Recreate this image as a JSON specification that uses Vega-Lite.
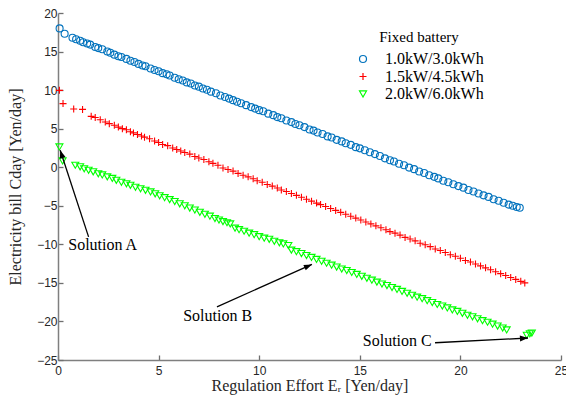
{
"$schema": "https://vega.github.io/schema/vega-lite/v6.json",
"width": 503, "height": 347,
"autosize": {"type": "none"},
"padding": {"left": 58, "top": 13, "right": 5, "bottom": 36},
"background": "white",
"config": {
 "view": {"stroke": null},
 "axis": {"grid": false, "domainColor": "#7f7f7f", "domainWidth": 1.5, "tickColor": "#6f6f6f", "tickWidth": 1.3, "tickSize": -5, "labelOverlap": false, "labelFlush": false, "labelBound": false, "labelColor": "#262626", "labelFont": "Liberation Sans", "labelFontSize": 12, "titleFont": "Liberation Serif", "titleFontSize": 16, "titleFontWeight": "normal", "titleColor": "#262626"},
 "legend": {"orient": "none", "legendX": 297, "legendY": 17, "padding": 0, "titleAnchor": "middle", "titleFont": "Liberation Serif", "titleFontSize": 15, "titleFontWeight": "normal", "titleColor": "black", "titlePadding": 6, "labelFont": "Liberation Serif", "labelFontSize": 16, "labelColor": "black", "labelOffset": 14, "symbolSize": 49, "symbolStrokeWidth": 1.2, "rowPadding": 1.5}
},
"datasets": {
 "pts": [
  {"s":"1.0kW/3.0kWh","x":0.08,"y":18.0},{"s":"1.0kW/3.0kWh","x":0.33,"y":17.3},{"s":"1.0kW/3.0kWh","x":0.72,"y":16.8},{"s":"1.0kW/3.0kWh","x":0.9,"y":16.6},{"s":"1.0kW/3.0kWh","x":1.1,"y":16.4},{"s":"1.0kW/3.0kWh","x":1.25,"y":16.2},{"s":"1.0kW/3.0kWh","x":1.45,"y":16.05},{"s":"1.0kW/3.0kWh","x":1.6,"y":15.9},{"s":"1.0kW/3.0kWh","x":1.85,"y":15.6},{"s":"1.0kW/3.0kWh","x":2.0,"y":15.45},{"s":"1.0kW/3.0kWh","x":2.2,"y":15.3},{"s":"1.0kW/3.0kWh","x":2.45,"y":15.0},{"s":"1.0kW/3.0kWh","x":2.6,"y":14.85},{"s":"1.0kW/3.0kWh","x":2.8,"y":14.6},{"s":"1.0kW/3.0kWh","x":3.0,"y":14.4},{"s":"1.0kW/3.0kWh","x":3.15,"y":14.3},{"s":"1.0kW/3.0kWh","x":3.4,"y":14.05},{"s":"1.0kW/3.0kWh","x":3.6,"y":13.8},{"s":"1.0kW/3.0kWh","x":3.8,"y":13.65},{"s":"1.0kW/3.0kWh","x":4.0,"y":13.4},{"s":"1.0kW/3.0kWh","x":4.2,"y":13.2},{"s":"1.0kW/3.0kWh","x":4.35,"y":13.1},{"s":"1.0kW/3.0kWh","x":4.6,"y":12.8},{"s":"1.0kW/3.0kWh","x":4.8,"y":12.6},{"s":"1.0kW/3.0kWh","x":5.0,"y":12.45},{"s":"1.0kW/3.0kWh","x":5.2,"y":12.2},{"s":"1.0kW/3.0kWh","x":5.4,"y":12.05},{"s":"1.0kW/3.0kWh","x":5.55,"y":11.9},{"s":"1.0kW/3.0kWh","x":5.8,"y":11.6},{"s":"1.0kW/3.0kWh","x":6.0,"y":11.4},{"s":"1.0kW/3.0kWh","x":6.2,"y":11.25},{"s":"1.0kW/3.0kWh","x":6.4,"y":11.0},{"s":"1.0kW/3.0kWh","x":6.6,"y":10.85},{"s":"1.0kW/3.0kWh","x":6.8,"y":10.6},{"s":"1.0kW/3.0kWh","x":7.0,"y":10.45},{"s":"1.0kW/3.0kWh","x":7.2,"y":10.2},{"s":"1.0kW/3.0kWh","x":7.4,"y":10.05},{"s":"1.0kW/3.0kWh","x":7.6,"y":9.8},{"s":"1.0kW/3.0kWh","x":7.85,"y":9.6},{"s":"1.0kW/3.0kWh","x":8.07,"y":9.3},{"s":"1.0kW/3.0kWh","x":8.3,"y":9.1},{"s":"1.0kW/3.0kWh","x":8.5,"y":8.9},{"s":"1.0kW/3.0kWh","x":8.7,"y":8.7},{"s":"1.0kW/3.0kWh","x":8.9,"y":8.5},{"s":"1.0kW/3.0kWh","x":9.1,"y":8.3},{"s":"1.0kW/3.0kWh","x":9.35,"y":8.05},{"s":"1.0kW/3.0kWh","x":9.6,"y":7.8},{"s":"1.0kW/3.0kWh","x":9.8,"y":7.6},{"s":"1.0kW/3.0kWh","x":10.0,"y":7.4},{"s":"1.0kW/3.0kWh","x":10.2,"y":7.25},{"s":"1.0kW/3.0kWh","x":10.45,"y":6.95},{"s":"1.0kW/3.0kWh","x":10.7,"y":6.75},{"s":"1.0kW/3.0kWh","x":10.9,"y":6.5},{"s":"1.0kW/3.0kWh","x":11.1,"y":6.35},{"s":"1.0kW/3.0kWh","x":11.35,"y":6.05},{"s":"1.0kW/3.0kWh","x":11.6,"y":5.85},{"s":"1.0kW/3.0kWh","x":11.8,"y":5.6},{"s":"1.0kW/3.0kWh","x":12.0,"y":5.45},{"s":"1.0kW/3.0kWh","x":12.25,"y":5.2},{"s":"1.0kW/3.0kWh","x":12.5,"y":4.9},{"s":"1.0kW/3.0kWh","x":12.7,"y":4.75},{"s":"1.0kW/3.0kWh","x":12.9,"y":4.5},{"s":"1.0kW/3.0kWh","x":13.15,"y":4.3},{"s":"1.0kW/3.0kWh","x":13.4,"y":4.0},{"s":"1.0kW/3.0kWh","x":13.6,"y":3.85},{"s":"1.0kW/3.0kWh","x":13.85,"y":3.55},{"s":"1.0kW/3.0kWh","x":14.1,"y":3.35},{"s":"1.0kW/3.0kWh","x":14.3,"y":3.1},{"s":"1.0kW/3.0kWh","x":14.55,"y":2.9},{"s":"1.0kW/3.0kWh","x":14.8,"y":2.6},{"s":"1.0kW/3.0kWh","x":15.0,"y":2.45},{"s":"1.0kW/3.0kWh","x":15.25,"y":2.2},{"s":"1.0kW/3.0kWh","x":15.5,"y":1.95},{"s":"1.0kW/3.0kWh","x":15.75,"y":1.7},{"s":"1.0kW/3.0kWh","x":16.0,"y":1.45},{"s":"1.0kW/3.0kWh","x":16.25,"y":1.15},{"s":"1.0kW/3.0kWh","x":16.5,"y":0.9},{"s":"1.0kW/3.0kWh","x":16.7,"y":0.75},{"s":"1.0kW/3.0kWh","x":16.95,"y":0.45},{"s":"1.0kW/3.0kWh","x":17.2,"y":0.25},{"s":"1.0kW/3.0kWh","x":17.45,"y":-0.05},{"s":"1.0kW/3.0kWh","x":17.7,"y":-0.25},{"s":"1.0kW/3.0kWh","x":17.95,"y":-0.55},{"s":"1.0kW/3.0kWh","x":18.2,"y":-0.75},{"s":"1.0kW/3.0kWh","x":18.45,"y":-1.05},{"s":"1.0kW/3.0kWh","x":18.7,"y":-1.25},{"s":"1.0kW/3.0kWh","x":18.9,"y":-1.45},{"s":"1.0kW/3.0kWh","x":19.15,"y":-1.75},{"s":"1.0kW/3.0kWh","x":19.4,"y":-1.95},{"s":"1.0kW/3.0kWh","x":19.65,"y":-2.2},{"s":"1.0kW/3.0kWh","x":19.9,"y":-2.45},{"s":"1.0kW/3.0kWh","x":20.15,"y":-2.65},{"s":"1.0kW/3.0kWh","x":20.4,"y":-2.95},{"s":"1.0kW/3.0kWh","x":20.65,"y":-3.15},{"s":"1.0kW/3.0kWh","x":20.9,"y":-3.4},{"s":"1.0kW/3.0kWh","x":21.15,"y":-3.65},{"s":"1.0kW/3.0kWh","x":21.4,"y":-3.85},{"s":"1.0kW/3.0kWh","x":21.65,"y":-4.15},{"s":"1.0kW/3.0kWh","x":21.9,"y":-4.35},{"s":"1.0kW/3.0kWh","x":22.15,"y":-4.6},{"s":"1.0kW/3.0kWh","x":22.4,"y":-4.85},{"s":"1.0kW/3.0kWh","x":22.6,"y":-5.0},{"s":"1.0kW/3.0kWh","x":22.8,"y":-5.15},{"s":"1.0kW/3.0kWh","x":22.95,"y":-5.25},
  {"s":"1.5kW/4.5kWh","x":0.07,"y":9.97},{"s":"1.5kW/4.5kWh","x":0.25,"y":8.25},{"s":"1.5kW/4.5kWh","x":0.78,"y":7.55},{"s":"1.5kW/4.5kWh","x":1.22,"y":7.5},{"s":"1.5kW/4.5kWh","x":1.65,"y":6.6},{"s":"1.5kW/4.5kWh","x":1.85,"y":6.45},{"s":"1.5kW/4.5kWh","x":2.1,"y":6.15},{"s":"1.5kW/4.5kWh","x":2.35,"y":5.87},{"s":"1.5kW/4.5kWh","x":2.55,"y":5.65},{"s":"1.5kW/4.5kWh","x":2.8,"y":5.45},{"s":"1.5kW/4.5kWh","x":3.0,"y":5.2},{"s":"1.5kW/4.5kWh","x":3.2,"y":5.0},{"s":"1.5kW/4.5kWh","x":3.4,"y":4.85},{"s":"1.5kW/4.5kWh","x":3.6,"y":4.6},{"s":"1.5kW/4.5kWh","x":3.75,"y":4.45},{"s":"1.5kW/4.5kWh","x":3.95,"y":4.25},{"s":"1.5kW/4.5kWh","x":4.15,"y":4.05},{"s":"1.5kW/4.5kWh","x":4.3,"y":3.9},{"s":"1.5kW/4.5kWh","x":4.55,"y":3.7},{"s":"1.5kW/4.5kWh","x":4.8,"y":3.4},{"s":"1.5kW/4.5kWh","x":5.0,"y":3.2},{"s":"1.5kW/4.5kWh","x":5.2,"y":2.95},{"s":"1.5kW/4.5kWh","x":5.45,"y":2.8},{"s":"1.5kW/4.5kWh","x":5.7,"y":2.5},{"s":"1.5kW/4.5kWh","x":5.9,"y":2.3},{"s":"1.5kW/4.5kWh","x":6.1,"y":2.1},{"s":"1.5kW/4.5kWh","x":6.3,"y":1.9},{"s":"1.5kW/4.5kWh","x":6.55,"y":1.7},{"s":"1.5kW/4.5kWh","x":6.8,"y":1.4},{"s":"1.5kW/4.5kWh","x":7.0,"y":1.2},{"s":"1.5kW/4.5kWh","x":7.25,"y":1.0},{"s":"1.5kW/4.5kWh","x":7.5,"y":0.7},{"s":"1.5kW/4.5kWh","x":7.7,"y":0.5},{"s":"1.5kW/4.5kWh","x":7.95,"y":0.25},{"s":"1.5kW/4.5kWh","x":8.2,"y":-0.1},{"s":"1.5kW/4.5kWh","x":8.45,"y":-0.3},{"s":"1.5kW/4.5kWh","x":8.7,"y":-0.5},{"s":"1.5kW/4.5kWh","x":8.95,"y":-0.8},{"s":"1.5kW/4.5kWh","x":9.2,"y":-1.05},{"s":"1.5kW/4.5kWh","x":9.45,"y":-1.25},{"s":"1.5kW/4.5kWh","x":9.7,"y":-1.5},{"s":"1.5kW/4.5kWh","x":9.9,"y":-1.75},{"s":"1.5kW/4.5kWh","x":10.15,"y":-1.95},{"s":"1.5kW/4.5kWh","x":10.4,"y":-2.25},{"s":"1.5kW/4.5kWh","x":10.65,"y":-2.45},{"s":"1.5kW/4.5kWh","x":10.9,"y":-2.7},{"s":"1.5kW/4.5kWh","x":11.1,"y":-2.95},{"s":"1.5kW/4.5kWh","x":11.35,"y":-3.15},{"s":"1.5kW/4.5kWh","x":11.6,"y":-3.4},{"s":"1.5kW/4.5kWh","x":11.85,"y":-3.65},{"s":"1.5kW/4.5kWh","x":12.1,"y":-3.9},{"s":"1.5kW/4.5kWh","x":12.35,"y":-4.15},{"s":"1.5kW/4.5kWh","x":12.6,"y":-4.4},{"s":"1.5kW/4.5kWh","x":12.85,"y":-4.65},{"s":"1.5kW/4.5kWh","x":13.05,"y":-4.85},{"s":"1.5kW/4.5kWh","x":13.3,"y":-5.1},{"s":"1.5kW/4.5kWh","x":13.55,"y":-5.35},{"s":"1.5kW/4.5kWh","x":13.8,"y":-5.6},{"s":"1.5kW/4.5kWh","x":14.05,"y":-5.85},{"s":"1.5kW/4.5kWh","x":14.3,"y":-6.1},{"s":"1.5kW/4.5kWh","x":14.55,"y":-6.35},{"s":"1.5kW/4.5kWh","x":14.8,"y":-6.6},{"s":"1.5kW/4.5kWh","x":15.05,"y":-6.85},{"s":"1.5kW/4.5kWh","x":15.3,"y":-7.1},{"s":"1.5kW/4.5kWh","x":15.55,"y":-7.35},{"s":"1.5kW/4.5kWh","x":15.8,"y":-7.6},{"s":"1.5kW/4.5kWh","x":16.05,"y":-7.85},{"s":"1.5kW/4.5kWh","x":16.3,"y":-8.1},{"s":"1.5kW/4.5kWh","x":16.5,"y":-8.35},{"s":"1.5kW/4.5kWh","x":16.75,"y":-8.55},{"s":"1.5kW/4.5kWh","x":17.0,"y":-8.8},{"s":"1.5kW/4.5kWh","x":17.25,"y":-9.1},{"s":"1.5kW/4.5kWh","x":17.5,"y":-9.3},{"s":"1.5kW/4.5kWh","x":17.75,"y":-9.55},{"s":"1.5kW/4.5kWh","x":18.0,"y":-9.85},{"s":"1.5kW/4.5kWh","x":18.25,"y":-10.05},{"s":"1.5kW/4.5kWh","x":18.5,"y":-10.3},{"s":"1.5kW/4.5kWh","x":18.75,"y":-10.6},{"s":"1.5kW/4.5kWh","x":19.0,"y":-10.8},{"s":"1.5kW/4.5kWh","x":19.25,"y":-11.05},{"s":"1.5kW/4.5kWh","x":19.5,"y":-11.35},{"s":"1.5kW/4.5kWh","x":19.75,"y":-11.55},{"s":"1.5kW/4.5kWh","x":20.0,"y":-11.8},{"s":"1.5kW/4.5kWh","x":20.25,"y":-12.1},{"s":"1.5kW/4.5kWh","x":20.5,"y":-12.3},{"s":"1.5kW/4.5kWh","x":20.75,"y":-12.55},{"s":"1.5kW/4.5kWh","x":21.0,"y":-12.8},{"s":"1.5kW/4.5kWh","x":21.25,"y":-13.05},{"s":"1.5kW/4.5kWh","x":21.5,"y":-13.3},{"s":"1.5kW/4.5kWh","x":21.75,"y":-13.55},{"s":"1.5kW/4.5kWh","x":22.0,"y":-13.8},{"s":"1.5kW/4.5kWh","x":22.25,"y":-14.05},{"s":"1.5kW/4.5kWh","x":22.5,"y":-14.3},{"s":"1.5kW/4.5kWh","x":22.75,"y":-14.55},{"s":"1.5kW/4.5kWh","x":23.0,"y":-14.8},{"s":"1.5kW/4.5kWh","x":23.2,"y":-15.0},
  {"s":"2.0kW/6.0kWh","x":0.07,"y":2.63},{"s":"2.0kW/6.0kWh","x":0.23,"y":0.82},{"s":"2.0kW/6.0kWh","x":0.86,"y":0.26},{"s":"2.0kW/6.0kWh","x":1.1,"y":0.05},{"s":"2.0kW/6.0kWh","x":1.3,"y":-0.2},{"s":"2.0kW/6.0kWh","x":1.52,"y":-0.4},{"s":"2.0kW/6.0kWh","x":1.75,"y":-0.6},{"s":"2.0kW/6.0kWh","x":2.0,"y":-0.85},{"s":"2.0kW/6.0kWh","x":2.2,"y":-1.0},{"s":"2.0kW/6.0kWh","x":2.45,"y":-1.25},{"s":"2.0kW/6.0kWh","x":2.7,"y":-1.45},{"s":"2.0kW/6.0kWh","x":2.9,"y":-1.7},{"s":"2.0kW/6.0kWh","x":3.15,"y":-1.95},{"s":"2.0kW/6.0kWh","x":3.4,"y":-2.15},{"s":"2.0kW/6.0kWh","x":3.6,"y":-2.35},{"s":"2.0kW/6.0kWh","x":3.85,"y":-2.6},{"s":"2.0kW/6.0kWh","x":4.1,"y":-2.8},{"s":"2.0kW/6.0kWh","x":4.35,"y":-3.0},{"s":"2.0kW/6.0kWh","x":4.6,"y":-3.2},{"s":"2.0kW/6.0kWh","x":4.83,"y":-3.45},{"s":"2.0kW/6.0kWh","x":5.05,"y":-3.7},{"s":"2.0kW/6.0kWh","x":5.3,"y":-3.95},{"s":"2.0kW/6.0kWh","x":5.55,"y":-4.2},{"s":"2.0kW/6.0kWh","x":5.8,"y":-4.45},{"s":"2.0kW/6.0kWh","x":6.05,"y":-4.75},{"s":"2.0kW/6.0kWh","x":6.3,"y":-5.0},{"s":"2.0kW/6.0kWh","x":6.55,"y":-5.3},{"s":"2.0kW/6.0kWh","x":6.8,"y":-5.55},{"s":"2.0kW/6.0kWh","x":7.05,"y":-5.85},{"s":"2.0kW/6.0kWh","x":7.3,"y":-6.1},{"s":"2.0kW/6.0kWh","x":7.55,"y":-6.35},{"s":"2.0kW/6.0kWh","x":7.8,"y":-6.65},{"s":"2.0kW/6.0kWh","x":8.0,"y":-6.85},{"s":"2.0kW/6.0kWh","x":8.2,"y":-7.05},{"s":"2.0kW/6.0kWh","x":8.4,"y":-7.2},{"s":"2.0kW/6.0kWh","x":8.56,"y":-7.35},{"s":"2.0kW/6.0kWh","x":8.8,"y":-7.9},{"s":"2.0kW/6.0kWh","x":9.0,"y":-8.1},{"s":"2.0kW/6.0kWh","x":9.25,"y":-8.3},{"s":"2.0kW/6.0kWh","x":9.5,"y":-8.55},{"s":"2.0kW/6.0kWh","x":9.75,"y":-8.75},{"s":"2.0kW/6.0kWh","x":10.0,"y":-9.0},{"s":"2.0kW/6.0kWh","x":10.25,"y":-9.2},{"s":"2.0kW/6.0kWh","x":10.5,"y":-9.35},{"s":"2.0kW/6.0kWh","x":10.75,"y":-9.6},{"s":"2.0kW/6.0kWh","x":11.0,"y":-9.8},{"s":"2.0kW/6.0kWh","x":11.2,"y":-9.95},{"s":"2.0kW/6.0kWh","x":11.45,"y":-10.15},{"s":"2.0kW/6.0kWh","x":11.6,"y":-10.75},{"s":"2.0kW/6.0kWh","x":11.85,"y":-10.95},{"s":"2.0kW/6.0kWh","x":12.1,"y":-11.2},{"s":"2.0kW/6.0kWh","x":12.35,"y":-11.45},{"s":"2.0kW/6.0kWh","x":12.6,"y":-11.7},{"s":"2.0kW/6.0kWh","x":12.85,"y":-11.95},{"s":"2.0kW/6.0kWh","x":13.1,"y":-12.2},{"s":"2.0kW/6.0kWh","x":13.35,"y":-12.45},{"s":"2.0kW/6.0kWh","x":13.6,"y":-12.7},{"s":"2.0kW/6.0kWh","x":13.85,"y":-12.95},{"s":"2.0kW/6.0kWh","x":14.1,"y":-13.2},{"s":"2.0kW/6.0kWh","x":14.35,"y":-13.4},{"s":"2.0kW/6.0kWh","x":14.6,"y":-13.65},{"s":"2.0kW/6.0kWh","x":14.85,"y":-13.9},{"s":"2.0kW/6.0kWh","x":15.1,"y":-14.15},{"s":"2.0kW/6.0kWh","x":15.35,"y":-14.4},{"s":"2.0kW/6.0kWh","x":15.6,"y":-14.65},{"s":"2.0kW/6.0kWh","x":15.85,"y":-14.9},{"s":"2.0kW/6.0kWh","x":16.1,"y":-15.15},{"s":"2.0kW/6.0kWh","x":16.35,"y":-15.35},{"s":"2.0kW/6.0kWh","x":16.6,"y":-15.6},{"s":"2.0kW/6.0kWh","x":16.85,"y":-15.85},{"s":"2.0kW/6.0kWh","x":17.1,"y":-16.1},{"s":"2.0kW/6.0kWh","x":17.35,"y":-16.35},{"s":"2.0kW/6.0kWh","x":17.6,"y":-16.6},{"s":"2.0kW/6.0kWh","x":17.85,"y":-16.85},{"s":"2.0kW/6.0kWh","x":18.1,"y":-17.05},{"s":"2.0kW/6.0kWh","x":18.35,"y":-17.3},{"s":"2.0kW/6.0kWh","x":18.6,"y":-17.55},{"s":"2.0kW/6.0kWh","x":18.85,"y":-17.8},{"s":"2.0kW/6.0kWh","x":19.1,"y":-18.0},{"s":"2.0kW/6.0kWh","x":19.35,"y":-18.25},{"s":"2.0kW/6.0kWh","x":19.6,"y":-18.5},{"s":"2.0kW/6.0kWh","x":19.85,"y":-18.7},{"s":"2.0kW/6.0kWh","x":20.1,"y":-18.95},{"s":"2.0kW/6.0kWh","x":20.35,"y":-19.2},{"s":"2.0kW/6.0kWh","x":20.6,"y":-19.4},{"s":"2.0kW/6.0kWh","x":20.85,"y":-19.65},{"s":"2.0kW/6.0kWh","x":21.1,"y":-19.9},{"s":"2.0kW/6.0kWh","x":21.35,"y":-20.1},{"s":"2.0kW/6.0kWh","x":21.6,"y":-20.35},{"s":"2.0kW/6.0kWh","x":21.85,"y":-20.6},{"s":"2.0kW/6.0kWh","x":22.1,"y":-20.85},{"s":"2.0kW/6.0kWh","x":22.3,"y":-21.1},{"s":"2.0kW/6.0kWh","x":23.3,"y":-21.8},{"s":"2.0kW/6.0kWh","x":23.45,"y":-21.6},{"s":"2.0kW/6.0kWh","x":23.55,"y":-21.5}
 ],
 "ann": [
  {"id":"A","text":"Solution A","tx":0.51,"ty":-10.1,"x":1.52,"y":-9.03,"hx":0.11,"hy":2.2},
  {"id":"B","text":"Solution B","tx":6.22,"ty":-19.26,"x":7.9,"y":-18.1,"hx":12.62,"hy":-12.6},
  {"id":"C","text":"Solution C","tx":15.15,"ty":-22.6,"x":18.74,"y":-22.76,"hx":23.36,"hy":-22.15}
 ]
},
"layer": [
 {
  "data": {"name": "pts"},
  "mark": {"type": "point", "filled": false, "size": 49, "strokeWidth": 1.1, "opacity": 1},
  "encoding": {
   "x": {"field": "x", "type": "quantitative", "scale": {"domain": [0, 25], "nice": false}, "axis": {"tickCount": 5, "title": "Regulation Effort  Eᵣ [Yen/day]", "labelPadding": 10, "titlePadding": 1, "labelOverlap": false}},
   "y": {"field": "y", "type": "quantitative", "scale": {"domain": [-25, 20], "nice": false}, "axis": {"tickCount": 10, "title": "Electricity bill Cday [Yen/day]", "labelPadding": 6, "titlePadding": 13, "labelOverlap": false}},
   "color": {"field": "s", "type": "nominal", "scale": {"domain": ["1.0kW/3.0kWh","1.5kW/4.5kWh","2.0kW/6.0kWh"], "range": ["#0072BD","#FF0000","#00FF00"]}, "legend": {"title": "Fixed battery"}},
   "shape": {"field": "s", "type": "nominal", "scale": {"domain": ["1.0kW/3.0kWh","1.5kW/4.5kWh","2.0kW/6.0kWh"], "range": ["circle","M-1,0H1M0,-1V1","triangle-down"]}, "legend": {"title": "Fixed battery"}}
  }
 },
 {
  "data": {"name": "ann"},
  "mark": {"type": "rule", "color": "black", "strokeWidth": 1.3},
  "encoding": {"x": {"field": "x", "type": "quantitative"}, "y": {"field": "y", "type": "quantitative"}, "x2": {"field": "hx"}, "y2": {"field": "hy"}}
 },
 {
  "data": {"name": "ann"},
  "mark": {"type": "text", "align": "left", "baseline": "middle", "font": "Liberation Serif", "fontSize": 16, "color": "black"},
  "encoding": {"x": {"field": "tx", "type": "quantitative"}, "y": {"field": "ty", "type": "quantitative"}, "text": {"field": "text"}}
 },
 {
  "data": {"name": "ann"},
  "transform": [{"filter": "datum.id == 'A'"}],
  "mark": {"type": "point", "shape": "M0,0L-0.85,2.3L0.85,2.3Z", "filled": true, "color": "black", "size": 49, "opacity": 1, "angle": 342},
  "encoding": {"x": {"field": "hx", "type": "quantitative"}, "y": {"field": "hy", "type": "quantitative"}}
 },
 {
  "data": {"name": "ann"},
  "transform": [{"filter": "datum.id == 'B'"}],
  "mark": {"type": "point", "shape": "M0,0L-0.85,2.3L0.85,2.3Z", "filled": true, "color": "black", "size": 49, "opacity": 1, "angle": 66},
  "encoding": {"x": {"field": "hx", "type": "quantitative"}, "y": {"field": "hy", "type": "quantitative"}}
 },
 {
  "data": {"name": "ann"},
  "transform": [{"filter": "datum.id == 'C'"}],
  "mark": {"type": "point", "shape": "M0,0L-0.85,2.3L0.85,2.3Z", "filled": true, "color": "black", "size": 49, "opacity": 1, "angle": 87},
  "encoding": {"x": {"field": "hx", "type": "quantitative"}, "y": {"field": "hy", "type": "quantitative"}}
 }
]
}
